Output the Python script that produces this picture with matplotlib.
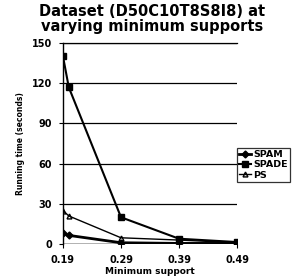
import matplotlib
matplotlib.use("Agg")
import matplotlib.pyplot as plt

plt.rcParams['font.family'] = ['DejaVu Sans']

# Data
support = [0.19, 0.20, 0.29, 0.39, 0.49]
spam  = [8, 6.5, 1, 0.5, 0.5]
spade = [140, 117, 20, 4, 1.5]
ps    = [25, 21, 4.7, 3, 1]

xticks = [0.19, 0.29, 0.39, 0.49]
yticks = [0, 30, 60, 90, 120, 150]

fig = plt.figure(figsize=(2.93, 2.78), dpi=100)
ax = fig.add_axes([0.215, 0.122, 0.594, 0.723])

ax.plot(support, spam, color="k", lw=2.0, marker="D", ms=3.5, label="SPAM")
ax.plot(support, spade, color="k", lw=1.5, marker="s", ms=4, label="SPADE")
ax.plot(support, ps, color="k", lw=1.0, marker="^", ms=3.5, mfc="none", label="PS")

ax.set_xlim(0.19, 0.49)
ax.set_ylim(0, 150)
ax.set_xticks(xticks)
ax.set_xticklabels([f"{v:.2f}" for v in xticks], fontweight="bold", fontsize=7)
ax.set_yticks(yticks)
ax.set_yticklabels([str(v) for v in yticks], fontweight="bold", fontsize=7)
ax.yaxis.grid(True, color="k", lw=0.9)
ax.set_axisbelow(True)
for s in ["right", "bottom"]:
    ax.spines[s].set_visible(False)
ax.spines["top"].set_linewidth(0.9)
ax.spines["left"].set_linewidth(1.0)
ax.axhline(0, color="k", lw=1.0, zorder=1)
ax.tick_params(length=3, width=0.8, pad=5)

ax.set_xlabel("Minimum support", fontweight="bold", fontsize=6.5, labelpad=1)
ax.set_ylabel("Running time (seconds)", fontweight="bold", fontsize=5.5, labelpad=5)
fig.text(0.52, 1 - 19 / 278, "Dataset (D50C10T8S8I8) at\nvarying minimum supports",
         ha="center", va="center", fontweight="bold", fontsize=10.5, linespacing=0.95)

leg = fig.legend(loc="upper left", bbox_to_anchor=(237 / 293, 1 - 148 / 278),
                 fontsize=6.8, frameon=True, fancybox=False, edgecolor="k",
                 handlelength=1.3, handletextpad=0.25, borderpad=0.2,
                 labelspacing=0.15, borderaxespad=0)
leg.get_frame().set_linewidth(0.9)
for t in leg.get_texts():
    t.set_fontweight("bold")

fig.savefig("out.png", dpi=100)
